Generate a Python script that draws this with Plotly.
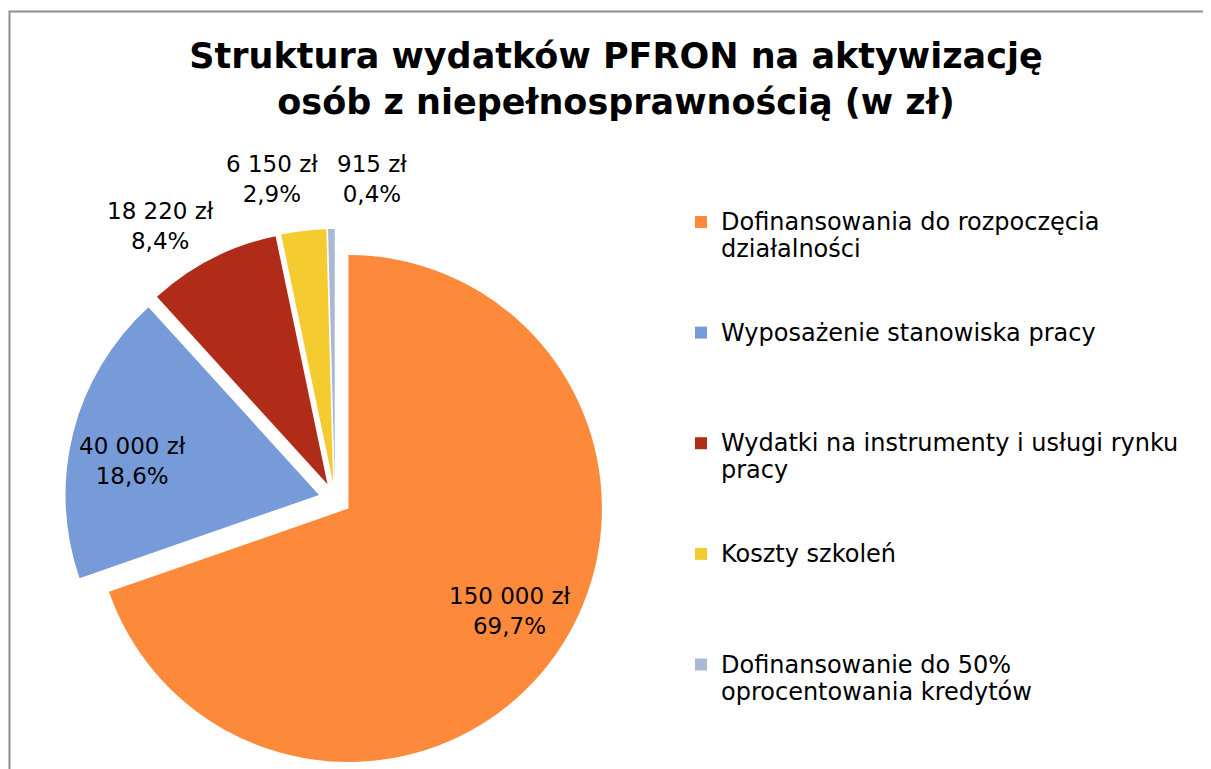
import plotly.graph_objects as go

# Data
categories = [
    "Dofinansowania do rozpoczęcia<br>działalności",
    "Wyposażenie stanowiska pracy",
    "Wydatki na instrumenty i usługi rynku<br>pracy",
    "Koszty szkoleń",
    "Dofinansowanie do 50%<br>oprocentowania kredytów",
]
values = [150000, 40000, 18220, 6150, 915]
pct_labels = ["69,7%", "18,6%", "8,4%", "2,9%", "0,4%"]
colors = ["#FD8A3A", "#779BD8", "#B12C18", "#F5CC30", "#ABB8D5"]

# page body has an 8px margin, so the figure is 8px smaller than the window
W, H = 1203, 761
FONT = "DejaVu Sans"
TXT = 24

# legend entries: bigger glyphs in a span, padded to 4 lines for even spacing
legend_names = []
for c in categories:
    lines = c.split("<br>")
    shown = "<br>".join(f"<span style='font-size:{TXT}px'>{ln}</span>" for ln in lines)
    legend_names.append(shown + "<br> " * (4 - len(lines)))

# pie geometry (pixels in figure coords)
cx, cy, half = 327, 491, 270

fig = go.Figure()
fig.add_trace(go.Pie(
    labels=legend_names,
    values=values,
    sort=False,
    direction="clockwise",
    rotation=0,
    pull=[0.065] * len(values),
    marker=dict(colors=colors, line=dict(width=0)),
    textinfo="none",
    hoverinfo="value+percent",
    domain=dict(x=[(cx - half) / W, (cx + half) / W], y=[0, 2 * half / H]),
))

# data labels (Excel style, no leader lines)
label_pos = [(501, 603), (124, 453), (152, 218), (264, 171), (364, 171)]
for v, p, (px, py) in zip(values, pct_labels, label_pos):
    fig.add_annotation(
        text=f"{v:,}".replace(",", " ") + " zł<br>" + p,
        x=px / W, y=1 - py / H, xref="paper", yref="paper",
        showarrow=False, xanchor="center", yanchor="middle",
        font=dict(family=FONT, size=23, color="#000000"),
    )

# chart border
fig.add_shape(type="rect", xref="paper", yref="paper",
              x0=1.5 / W, x1=1.05, y0=-0.05, y1=1 - 3.5 / H,
              line=dict(color="#8E8E8E", width=2), fillcolor="rgba(0,0,0,0)")

fig.update_layout(
    width=W, height=H,
    margin=dict(l=0, r=0, t=0, b=0),
    paper_bgcolor="white",
    plot_bgcolor="white",
    title=dict(
        text="<b>Struktura wydatków PFRON na aktywizację<br>osób z niepełnosprawnością (w zł)</b>",
        x=608 / W, xanchor="center", y=1 - 60 / H, yanchor="middle",
        font=dict(family=FONT, size=35, color="#000000"),
    ),
    legend=dict(
        x=673 / W, xanchor="left", y=1 - 194 / H, yanchor="top",
        valign="top",
        font=dict(family=FONT, size=20.7, color="#000000"),
        bgcolor="rgba(0,0,0,0)",
    ),
    showlegend=True,
)

fig.write_html("out.html")
